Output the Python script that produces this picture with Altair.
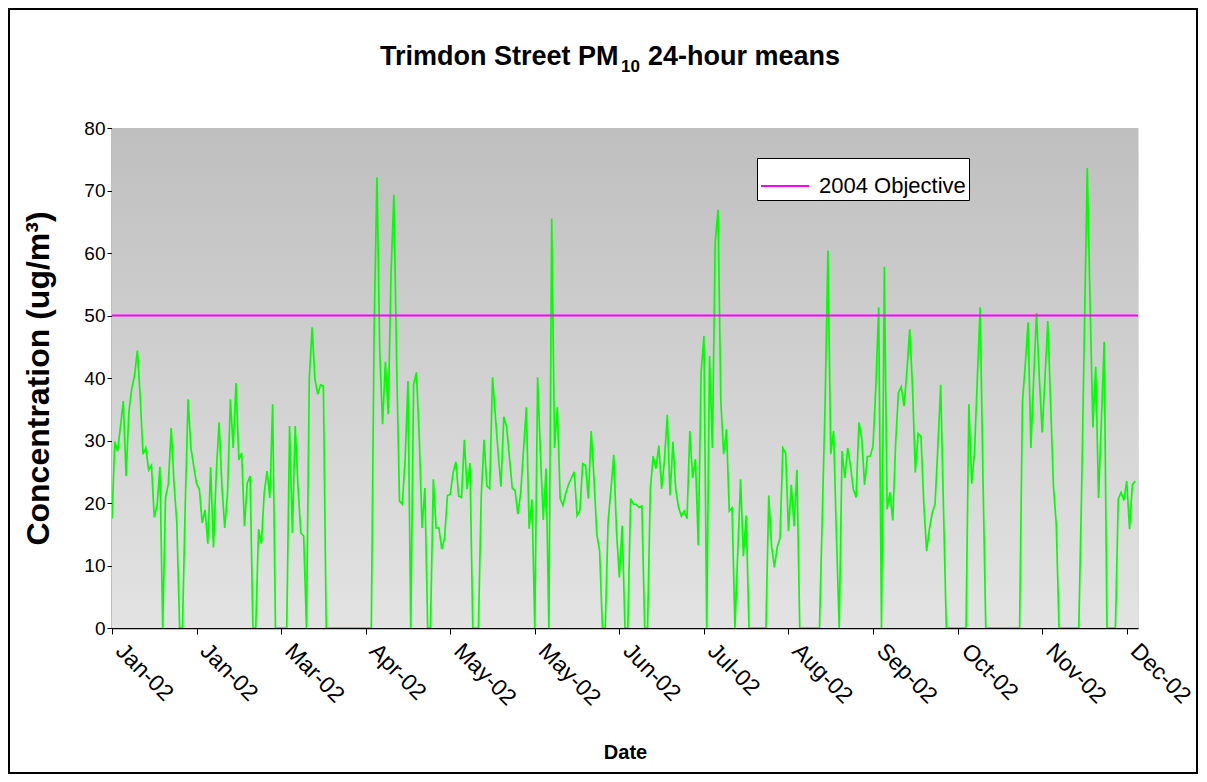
import altair as alt
import pandas as pd

# Daily PM10 24-hour means (ug/m3), 2002, one list per month
jan = [17.5, 29.8, 28.3, 32.2, 36.3, 24.3, 34.6, 38.3, 40.4, 44.4, 37.1, 27.8, 28.8, 25.3, 26.0, 17.7,
       19.6, 25.8, 0, 20.9, 23.1, 32.0, 23.2, 16.8, 0, 0, 20.0, 36.6, 28.8, 25.9, 23.1]
feb = [22.2, 16.8, 18.9, 13.5, 25.7, 12.9, 24.8, 32.9, 22.7, 16.0, 21.6, 36.6, 28.8, 39.2, 26.9, 28.0,
       16.3, 23.2, 24.3, 0, 0, 15.8, 13.5, 21.6, 25.1, 20.8, 35.8, 0]
mar = [0, 0, 0, 0, 32.3, 15.2, 32.3, 22.5, 15.2, 14.7, 0, 40.0, 48.1, 39.8, 37.4, 38.9, 38.7,
       0, 0, 0, 0, 0, 0, 0, 0, 0, 0, 0, 0, 0, 0]
apr = [0, 0, 0, 48.0, 72.1, 44.1, 32.6, 42.6, 34.2, 56.9, 69.3, 42.0, 20.3, 19.8, 27.0, 39.5, 0, 39.0,
       40.9, 30.7, 16.0, 22.4, 0, 0, 23.8, 16.0, 16.0, 12.6, 14.4, 21.2]
may = [21.4, 24.8, 26.6, 21.1, 20.9, 30.1, 22.2, 26.4, 0, 0, 0, 21.1, 30.1, 22.7, 22.3, 40.1, 34.0,
       28.0, 22.6, 33.8, 32.2, 27.3, 22.4, 22.0, 18.2, 21.6, 28.5, 35.3, 15.9, 20.6, 0]
jun = [40.1, 28.0, 17.3, 25.5, 0, 65.5, 28.8, 35.3, 20.7, 19.6, 21.6, 23.0, 24.0, 25.0, 18.0, 18.8,
       26.3, 26.0, 20.7, 31.5, 24.0, 15.0, 12.3, 0, 0, 17.0, 22.0, 27.7, 15.4, 8.1]
jul = [16.4, 0, 0, 20.7, 19.8, 19.8, 19.3, 19.5, 0, 0, 22.3, 27.5, 25.5, 29.2, 22.3, 26.8, 34.1, 21.2,
       29.8, 22.2, 19.3, 17.9, 18.7, 17.5, 31.5, 24.0, 27.0, 13.2, 40.9, 46.7, 0]
aug = [43.5, 28.8, 61.7, 66.9, 36.3, 27.8, 31.8, 18.7, 19.2, 0, 12.0, 23.8, 11.5, 18.0, 0, 0, 0, 0,
       0, 0, 0, 21.2, 13.1, 9.7, 12.9, 14.4, 28.8, 28.0, 15.5, 22.9, 16.3]
sep = [25.3, 0, 0, 0, 0, 0, 0, 0, 0, 18.0, 36.0, 60.4, 27.8, 31.5, 15.0, 0, 28.3, 24.0, 28.8, 26.0,
       22.2, 20.9, 32.9, 30.3, 22.9, 27.4, 27.5, 29.1, 38.7, 51.3]
oct_ = [0, 57.8, 19.0, 21.7, 17.2, 29.4, 37.7, 38.6, 35.5, 40.9, 47.8, 38.7, 24.9, 31.1, 30.7, 20.0,
        12.3, 15.8, 18.4, 19.8, 29.0, 38.9, 19.0, 0, 0, 0, 0, 0, 0, 0, 0]
nov = [35.8, 23.1, 28.0, 40.0, 51.3, 24.0, 0, 0, 0, 0, 0, 0, 0, 0, 0, 0, 0, 0, 0, 36.1, 42.0, 48.9,
       28.8, 40.0, 50.4, 40.0, 31.3, 40.0, 49.1, 36.0]
dec = [22.7, 16.6, 0, 0, 0, 0, 0, 0, 0, 0, 22.0, 48.0, 73.6, 52.0, 32.1, 41.8, 20.8, 33.0, 45.8,
       0, 0, 0, 0, 20.6, 21.7, 20.4, 23.5, 15.8, 22.9, 23.5]

# x-axis tick dates (30-day major unit)
tick_dates = [(2002, 1, 1), (2002, 1, 31), (2002, 3, 2), (2002, 4, 1), (2002, 5, 1), (2002, 5, 31),
              (2002, 6, 30), (2002, 7, 30), (2002, 8, 29), (2002, 9, 28), (2002, 10, 28),
              (2002, 11, 27), (2002, 12, 27)]
y_ticks = [0, 10, 20, 30, 40, 50, 60, 70, 80]

objective_label = ["2004 Objective"]
objective_value = [50]

title_main = ["Trimdon Street PM"]
title_sub = ["10"]
title_rest = ["24-hour means"]
y_title = "Concentration (ug/m\u00b3)"
x_title = "Date"

values = jan + feb + mar + apr + may + jun + jul + aug + sep + oct_ + nov + dec
dates = pd.date_range("2002-01-01", periods=len(values), freq="D")
df = pd.DataFrame({"date": dates, "pm10": values})
obj = pd.DataFrame({"series": objective_label, "value": objective_value})
one = pd.DataFrame({"k": [0]})

W, H = 1026, 500
FONT = "Liberation Sans"

grad = alt.LinearGradient(
    gradient="linear",
    stops=[alt.GradientStop(color="#BFBFBF", offset=0), alt.GradientStop(color="#E3E3E3", offset=1)],
    x1=0, x2=0, y1=0, y2=1,
)

bg = alt.Chart(one).mark_rect(color=grad).encode(
    x=alt.value(0), x2=alt.value(W), y=alt.value(0), y2=alt.value(H)
)

tick_dt = [alt.DateTime(year=y, month=m, date=d) for (y, m, d) in tick_dates]

line = alt.Chart(df).mark_line(color="#00FF00", strokeWidth=1.7, clip=True).encode(
    x=alt.X(
        "date:T",
        scale=alt.Scale(domain=[alt.DateTime(year=2002, month=1, date=1),
                                alt.DateTime(year=2002, month=12, date=31)]),
        axis=alt.Axis(
            values=tick_dt, format="%b-%y", labelAngle=45, labelAlign="left", labelBaseline="middle",
            labelFontSize=23, labelFont=FONT, labelColor="#000", labelPadding=13, labelOffset=7,
            tickSize=6, tickColor="#000", domainColor="#000", domainWidth=1.5, grid=False,
            title=x_title, titleFontSize=20, titleFont=FONT, titleFontWeight="bold",
            titleColor="#000", titlePadding=33, labelOverlap=False, labelBound=False, labelFlush=False,
        ),
    ),
    y=alt.Y(
        "pm10:Q",
        scale=alt.Scale(domain=[0, 80], nice=False, zero=True),
        axis=alt.Axis(
            values=y_ticks, labelFontSize=19, labelFont=FONT, labelColor="#000", labelPadding=2,
            tickSize=5, tickColor="#000", domainColor="#000", domainWidth=1.5, grid=False,
            title=y_title, titleFontSize=32, titleFont=FONT, titleFontWeight="bold",
            titleColor="#000", titlePadding=28,
        ),
    ),
)

rule = alt.Chart(obj).mark_rule(strokeWidth=2).encode(
    y=alt.Y("value:Q"),
    color=alt.Color(
        "series:N",
        scale=alt.Scale(domain=objective_label, range=["#FF00FF"]),
        legend=alt.Legend(
            orient="none", legendX=645, legendY=30, title=None,
            symbolType="stroke", symbolSize=2304, symbolStrokeWidth=2,
            labelFontSize=22, labelFont=FONT, labelColor="#000", labelLimit=400, labelOffset=9,
            fillColor="#FFFFFF", strokeColor="#000000", padding=3,
        ),
    ),
)

TX = 268  # left edge of the title line, in plot coordinates
t1 = alt.Chart(pd.DataFrame({"t": title_main})).mark_text(
    font=FONT, fontSize=27, fontWeight="bold", color="#000", align="left", baseline="alphabetic"
).encode(text="t:N", x=alt.value(TX), y=alt.value(-63))
t2 = alt.Chart(pd.DataFrame({"t": title_sub})).mark_text(
    font=FONT, fontSize=17, fontWeight="bold", color="#000", align="left", baseline="alphabetic"
).encode(text="t:N", x=alt.value(TX + 241), y=alt.value(-56))
t3 = alt.Chart(pd.DataFrame({"t": title_rest})).mark_text(
    font=FONT, fontSize=27, fontWeight="bold", color="#000", align="left", baseline="alphabetic"
).encode(text="t:N", x=alt.value(TX + 268), y=alt.value(-63))

border = alt.Chart(one).mark_rect(fillOpacity=0, stroke="#000000", strokeWidth=2).encode(
    x=alt.value(-103), x2=alt.value(1085), y=alt.value(-119), y2=alt.value(645)
)

chart = (
    alt.layer(bg, line, rule, t1, t2, t3, border)
    .properties(
        width=W, height=H,
        autosize=alt.AutoSizeParams(type="none"),
        padding={"left": 104, "top": 120, "right": 60, "bottom": 147},
    )
    .configure_view(stroke="#808080", strokeWidth=1.5)
    .configure(background="#FFFFFF")
)

chart.save("out.html", embed_options={"renderer": "svg", "actions": False})
